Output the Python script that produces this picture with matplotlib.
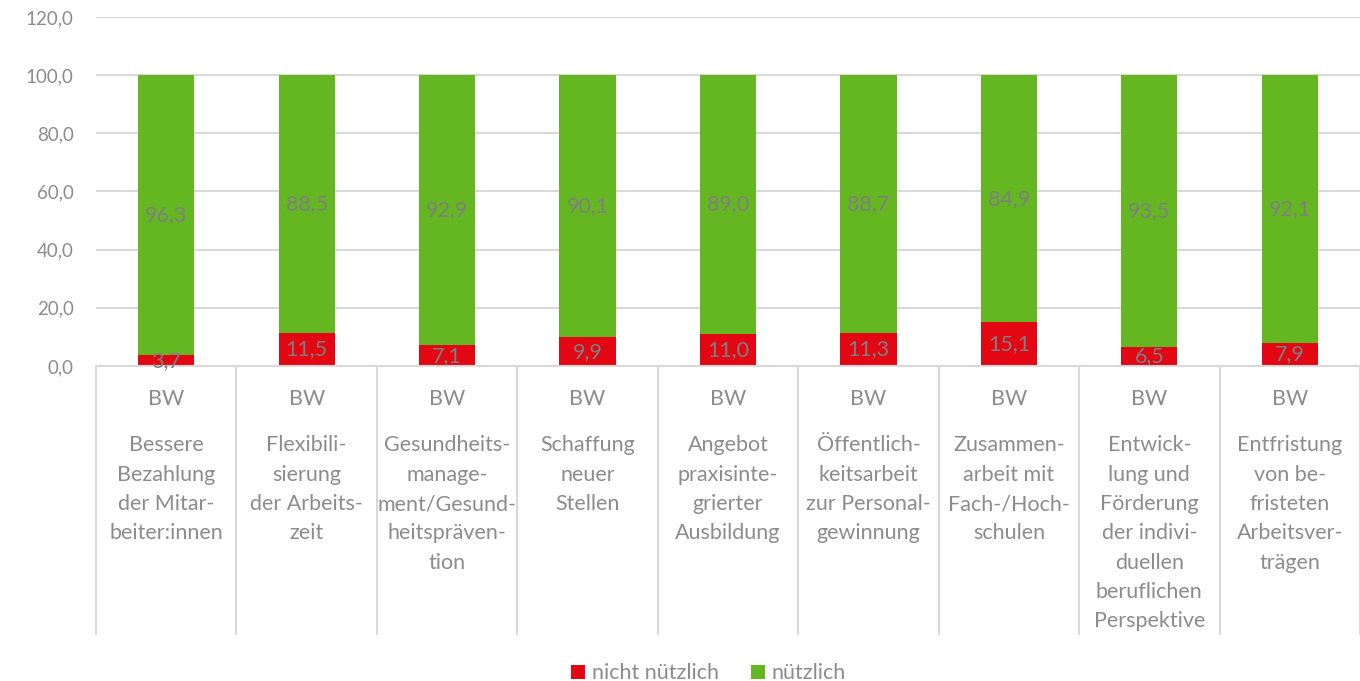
import matplotlib
matplotlib.use("Agg")
import matplotlib.pyplot as plt
import numpy as np
from matplotlib.ticker import FuncFormatter, FixedLocator

plt.rcParams["font.family"] = ["Lato", "DejaVu Sans"]

group_label = "BW"
categories = [
    "Bessere\nBezahlung\nder Mitar-\nbeiter:innen",
    "Flexibili-\nsierung\nder Arbeits-\nzeit",
    "Gesundheits-\nmanage-\nment/Gesund-\nheitspräven-\ntion",
    "Schaffung\nneuer\nStellen",
    "Angebot\npraxisinte-\ngrierter\nAusbildung",
    "Öffentlich-\nkeitsarbeit\nzur Personal-\ngewinnung",
    "Zusammen-\narbeit mit\nFach-/Hoch-\nschulen",
    "Entwick-\nlung und\nFörderung\nder indivi-\nduellen\nberuflichen\nPerspektive",
    "Entfristung\nvon be-\nfristeten\nArbeitsver-\nträgen",
]
nicht_nuetzlich = [3.7, 11.5, 7.1, 9.9, 11.0, 11.3, 15.1, 6.5, 7.9]
nuetzlich = [96.3, 88.5, 92.9, 90.1, 89.0, 88.7, 84.9, 93.5, 92.1]
series_names = ["nicht nützlich", "nützlich"]

RED = "#E30613"
GREEN = "#65B721"
GRID = "#D9D9D9"
TXT = "#8C8C8C"
LBL = "#7F7F7F"

fig = plt.figure(figsize=(13.6, 6.81), dpi=100, facecolor="white")
ax = fig.add_axes([96 / 1360, 1 - 366 / 681, 1 - 96 / 1360, (366 - 17) / 681])

x = np.arange(len(categories))
b1 = ax.bar(x, nicht_nuetzlich, width=0.4, color=RED, label=series_names[0], zorder=2)
b2 = ax.bar(x, nuetzlich, width=0.4, bottom=nicht_nuetzlich, color=GREEN,
            label=series_names[1], zorder=2)

fmt = lambda v: f"{v:.1f}".replace(".", ",")
for bars in (b1, b2):
    ax.bar_label(bars, labels=[fmt(b.get_height()) for b in bars], label_type="center",
                 fontsize=15.5, color=LBL, zorder=3)

ax.set_xlim(-0.5, len(categories) - 0.5)
ax.set_ylim(0, 120)
ax.set_yticks(np.arange(0, 121, 20))
ax.yaxis.set_major_formatter(FuncFormatter(lambda v, p: fmt(v)))
ax.tick_params(axis="y", length=0, labelsize=13.5, labelcolor=TXT, pad=16)
ax.grid(axis="y", color=GRID, linewidth=1.5, zorder=0)
for s in ("top", "right", "left"):
    ax.spines[s].set_visible(False)
ax.spines["bottom"].set_color(GRID)
ax.spines["bottom"].set_linewidth(1.5)

# multi-level category axis: separators as long minor ticks
ax.xaxis.set_major_locator(FixedLocator([]))
ax.xaxis.set_minor_locator(FixedLocator(np.arange(-0.5, len(categories), 1.0)))
ax.tick_params(axis="x", which="minor", length=194, width=1.5, color=GRID, direction="out")

for i, cat in enumerate(categories):
    ax.annotate(group_label, xy=(i, 0), xycoords=("data", "axes fraction"),
                xytext=(0, -24), textcoords="offset points",
                ha="center", va="center", fontsize=15.5, color=TXT)
    ax.annotate(cat, xy=(i, 0), xycoords=("data", "axes fraction"),
                xytext=(0, -50), textcoords="offset points",
                ha="center", va="top", fontsize=15.5, color=TXT, linespacing=1.58)

leg = fig.legend(loc="lower center", ncol=2, frameon=False, fontsize=15.5,
                 bbox_to_anchor=(0.521, -0.032), handlelength=0.65, handleheight=0.65,
                 handletextpad=0.3, columnspacing=1.5)
for t in leg.get_texts():
    t.set_color(TXT)

fig.savefig("out.png", dpi=100, facecolor="white")
